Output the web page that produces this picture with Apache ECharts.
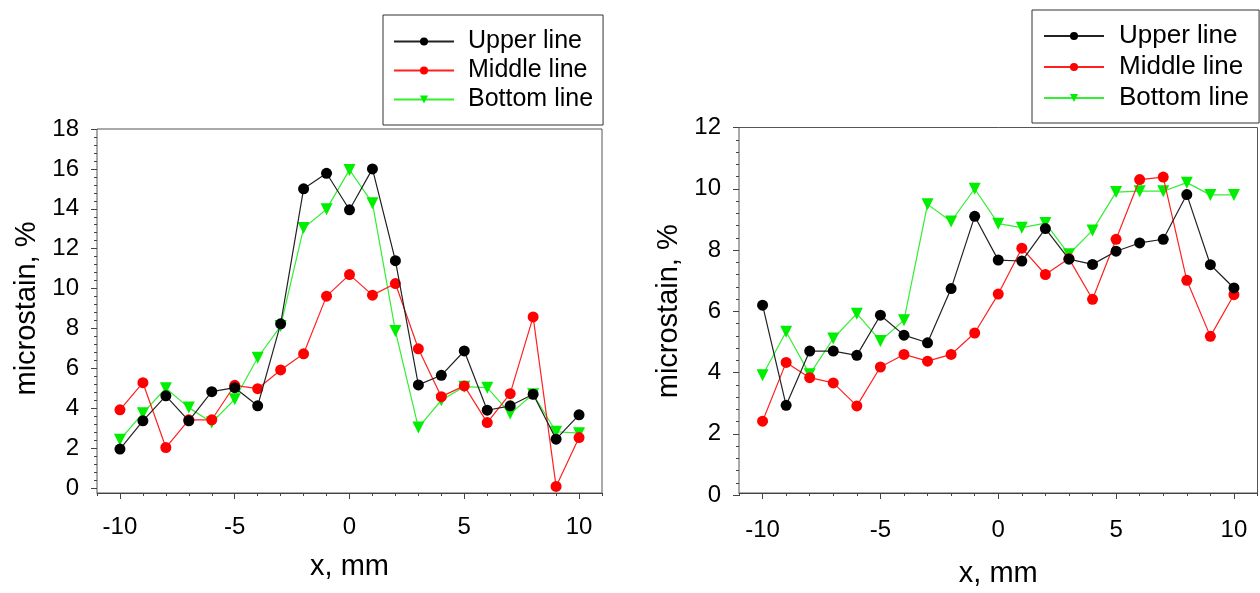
<!DOCTYPE html>
<html>
<head>
<meta charset="utf-8">
<script src="https://cdn.jsdelivr.net/npm/echarts@6/dist/echarts.min.js"></script>
<style>
html,body{margin:0;padding:0;background:#fff;}
#c1{position:absolute;left:0;top:0;width:630px;height:593px;}
#c2{position:absolute;left:630px;top:0;width:630px;height:593px;}
</style>
</head>
<body>
<div id="c1"></div>
<div id="c2"></div>
<script>
// ---- data ----
const xValues = [-10,-9,-8,-7,-6,-5,-4,-3,-2,-1,0,1,2,3,4,5,6,7,8,9,10];
const seriesNames = ['Upper line','Middle line','Bottom line'];
const xTickLabels = [-10,-5,0,5,10];

const leftUpper  = [1.95,3.37,4.62,3.37,4.83,5.03,4.12,8.23,15.0,15.78,13.95,16.0,11.4,5.17,5.65,6.87,3.9,4.12,4.7,2.45,3.67];
const leftMiddle = [3.92,5.28,2.03,3.42,3.42,5.15,4.98,5.92,6.73,9.62,10.7,9.67,10.25,6.98,4.58,5.12,3.28,4.73,8.58,0.08,2.53];
const leftBottom = [2.42,3.75,5.0,4.03,3.28,4.45,6.53,8.12,13.03,13.98,15.95,14.28,7.87,3.03,4.4,5.08,5.03,3.73,4.7,2.82,2.75];

const rightUpper  = [6.2,2.93,4.7,4.7,4.56,5.87,5.22,4.97,6.74,9.1,7.67,7.64,8.7,7.7,7.53,7.96,8.23,8.35,9.81,7.52,6.76];
const rightMiddle = [2.41,4.33,3.83,3.66,2.91,4.18,4.59,4.37,4.59,5.29,6.56,8.06,7.2,7.72,6.39,8.35,10.3,10.38,7.01,5.18,6.54];
const rightBottom = [3.91,5.33,3.94,5.11,5.92,5.03,5.71,9.49,8.93,10.0,8.86,8.73,8.88,7.86,8.64,9.89,9.92,9.92,10.2,9.8,9.8];

const FONT = 'Liberation Sans, Arial, sans-serif';
const AXC = '#444';

function pairs(ys){ return xValues.map((x,i)=>[x, ys[i]]); }

function makeOption(cfg){
  const styles = [
    {color:'#000', line:'#222', symbol:'circle', size:11, rot:0},
    {color:'#ff0000', line:'#ff2020', symbol:'circle', size:11, rot:0},
    {color:'#00ee00', line:'#33ee33', symbol:'triangle', size:12, rot:180}
  ];
  const data = [cfg.upper, cfg.middle, cfg.bottom];
  return {
    animation:false,
    textStyle:{fontFamily:FONT},
    legend:{
      orient:'vertical',
      left:cfg.legLeft, top:cfg.legTop,
      padding:cfg.legPad,
      borderColor:'#333', borderWidth:1,
      itemWidth:60, itemHeight:10, itemGap:cfg.legGap,
      textStyle:{fontSize:cfg.legFont, color:'#000', fontFamily:FONT, padding:[0,0,0,cfg.legTextPad]},
      data:seriesNames
    },
    grid:[
      {left:cfg.left, top:cfg.top, width:cfg.width, height:cfg.frameH, show:true, borderColor:'#555', borderWidth:1, backgroundColor:'transparent'},
      {left:cfg.left, top:cfg.top, width:cfg.width, height:cfg.dataH, show:false}
    ],
    xAxis:[
      // minor ticks
      {gridIndex:0, type:'value', min:-11, max:11, interval:1, position:'bottom',
        axisLine:{show:true, onZero:false, lineStyle:{color:AXC}},
        axisTick:{show:true, inside:false, length:3, lineStyle:{color:AXC}},
        axisLabel:{show:false}, splitLine:{show:false}},
      // major ticks + labels + name
      {gridIndex:0, type:'value', min:-11, max:11, position:'bottom',
        axisLine:{show:false, onZero:false},
        axisTick:{show:true, inside:false, length:6, lineStyle:{color:AXC}, customValues:xTickLabels},
        axisLabel:{show:true, fontSize:cfg.tickFont, color:'#000', margin:cfg.xLabMargin, fontFamily:FONT, customValues:xTickLabels},
        splitLine:{show:false},
        name:'x, mm', nameLocation:'middle', nameGap:cfg.xNameGap,
        nameTextStyle:{fontSize:cfg.titleFont, color:'#000', fontFamily:FONT}},
      // data x axis
      {gridIndex:1, type:'value', min:-11, max:11, show:false}
    ],
    yAxis:[
      {gridIndex:0, type:'value', min:0, max:1, show:false},
      {gridIndex:1, type:'value', min:0, max:cfg.ymax, interval:2, position:'left',
        axisLine:{show:false, onZero:false},
        axisTick:{show:true, inside:false, length:6, lineStyle:{color:AXC}},
        minorTick:{show:true, splitNumber:5, length:3, lineStyle:{color:AXC}},
        axisLabel:{fontSize:cfg.tickFont, color:'#000', margin:cfg.yLabMargin, fontFamily:FONT},
        splitLine:{show:false},
        name:'microstain, %', nameLocation:'middle', nameGap:cfg.yNameGap, nameRotate:90,
        nameTextStyle:{fontSize:cfg.titleFont, color:'#000', fontFamily:FONT}}
    ],
    series: seriesNames.map((n,i)=>({
      name:n, type:'line', xAxisIndex:2, yAxisIndex:1,
      data:pairs(data[i]),
      symbol:styles[i].symbol, symbolSize:styles[i].size, symbolRotate:styles[i].rot,
      itemStyle:{color:styles[i].color},
      lineStyle:{color:styles[i].line, width:1.2},
      z: 3 - i
    }))
  };
}

const c1 = echarts.init(document.getElementById('c1'));
c1.setOption(makeOption({
  upper:leftUpper, middle:leftMiddle, bottom:leftBottom,
  left:97, top:129, width:505, frameH:364, dataH:359, ymax:18,
  legLeft:383, legTop:15, legPad:[14,10,13,10], legGap:4, legFont:25, legTextPad:9,
  tickFont:24, titleFont:29, xLabMargin:22, yLabMargin:18, xNameGap:59, yNameGap:47
}));

const c2 = echarts.init(document.getElementById('c2'));
c2.setOption(makeOption({
  upper:rightUpper, middle:rightMiddle, bottom:rightBottom,
  left:109, top:127.5, width:518.5, frameH:373.5, dataH:367.5, ymax:12,
  legLeft:402, legTop:10, legPad:[13,10,12,11], legGap:5, legFont:26, legTextPad:10,
  tickFont:24, titleFont:29, xLabMargin:25, yLabMargin:18, xNameGap:66, yNameGap:56
}));
</script>
</body>
</html>
